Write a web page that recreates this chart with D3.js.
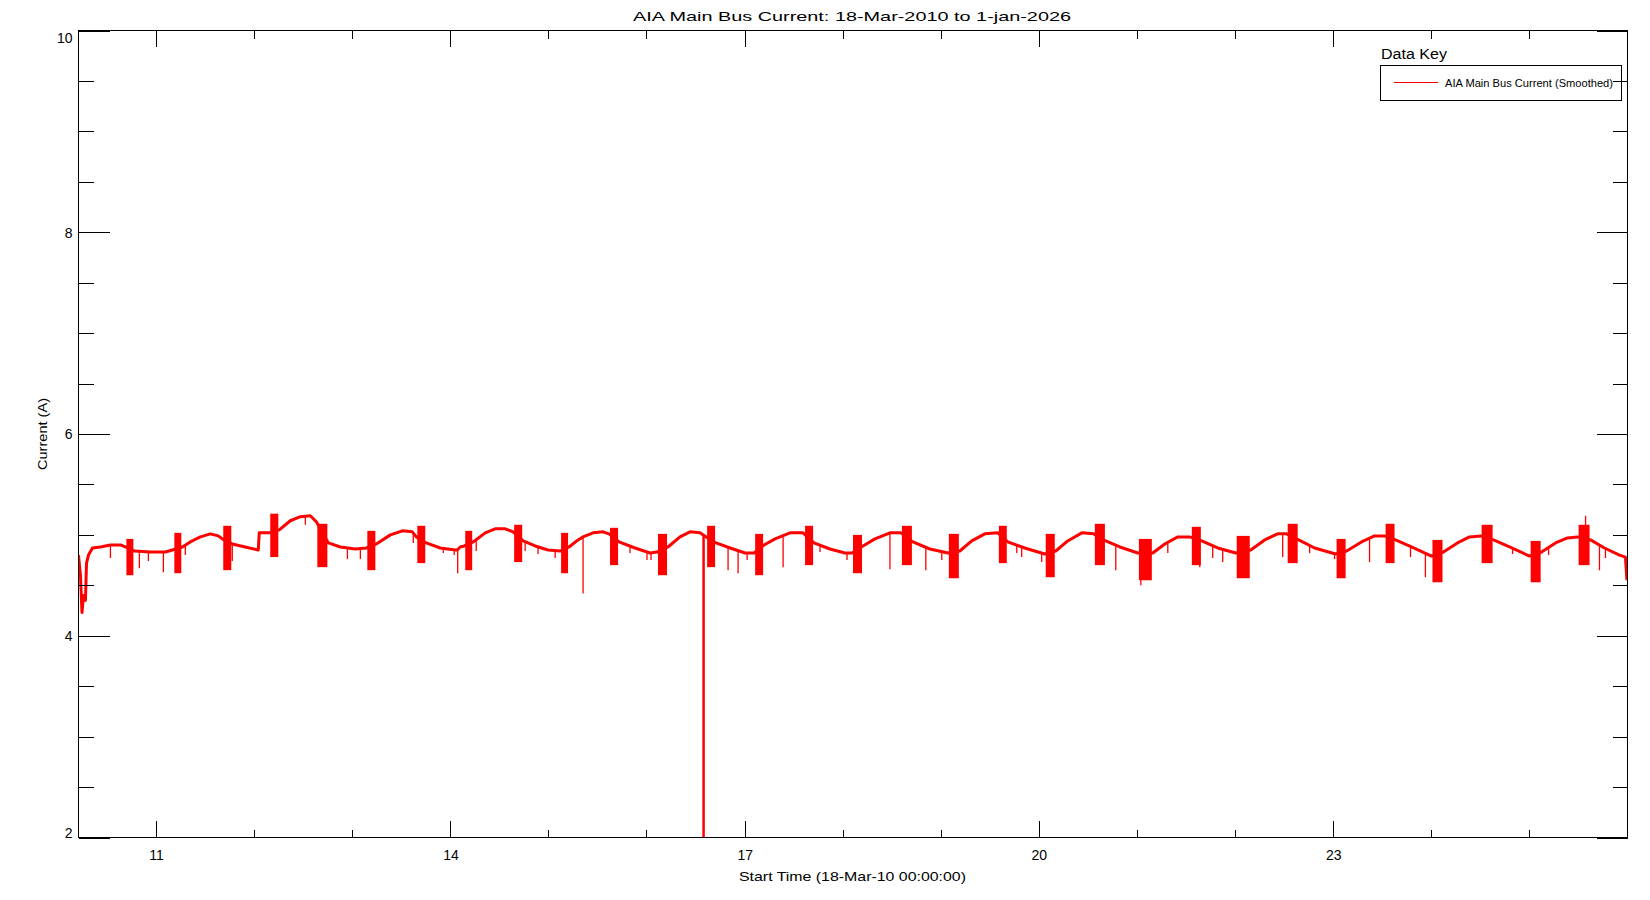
<!DOCTYPE html>
<html>
<head>
<meta charset="utf-8">
<title>AIA Main Bus Current</title>
<script src="https://cdn.jsdelivr.net/npm/d3@7"></script>
<style>
  body { margin: 0; background: #fff; }
  svg { display: block; font-family: "Liberation Sans", "DejaVu Sans", sans-serif; }
  .axis .domain { display: none; }
  .axis line { stroke: #000; stroke-width: 1; shape-rendering: crispEdges; }
  .axis text { font-size: 14px; fill: #000; font-family: "Liberation Sans", sans-serif; }
</style>
</head>
<body>
<svg id="chart" width="1650" height="900"></svg>
<script>
// smoothed main bus current, [decimal year, amps]
const busCurrent = [
    [2010.208, 4.80], [2010.228, 4.60], [2010.244, 4.23], [2010.259, 4.40], [2010.279, 4.35],
    [2010.290, 4.72], [2010.310, 4.80], [2010.351, 4.87], [2010.432, 4.88], [2010.534, 4.90],
    [2010.636, 4.90], [2010.687, 4.88],
    [2010.779, 4.84], [2010.942, 4.83], [2011.094, 4.83], [2011.166, 4.85],
    [2011.268, 4.88], [2011.349, 4.93], [2011.451, 4.98], [2011.553, 5.01], [2011.634, 4.99], [2011.675, 4.96],
    [2011.777, 4.91], [2011.909, 4.88], [2012.042, 4.85], [2012.052, 5.02], [2012.154, 5.02],
    [2012.256, 5.05], [2012.368, 5.14], [2012.470, 5.18], [2012.572, 5.19], [2012.633, 5.13],
    [2012.755, 4.92], [2012.877, 4.88], [2013.030, 4.86], [2013.142, 4.87],
    [2013.244, 4.91], [2013.387, 5.00], [2013.509, 5.04], [2013.611, 5.03], [2013.652, 4.98],
    [2013.753, 4.92], [2013.896, 4.87], [2014.049, 4.85], [2014.069, 4.85], [2014.100, 4.88], [2014.141, 4.89],
    [2014.232, 4.93], [2014.355, 5.02], [2014.456, 5.06], [2014.558, 5.06], [2014.640, 5.03],
    [2014.742, 4.94], [2014.864, 4.89], [2014.996, 4.85], [2015.119, 4.84],
    [2015.210, 4.88], [2015.302, 4.95], [2015.353, 4.98], [2015.455, 5.02], [2015.557, 5.03], [2015.618, 5.01],
    [2015.720, 4.93], [2015.883, 4.87], [2016.036, 4.82], [2016.107, 4.83],
    [2016.219, 4.88], [2016.341, 4.98], [2016.443, 5.03], [2016.545, 5.02], [2016.606, 4.98],
    [2016.708, 4.92], [2016.851, 4.87], [2017.003, 4.82], [2017.095, 4.82],
    [2017.197, 4.90], [2017.309, 4.96], [2017.462, 5.02], [2017.594, 5.02],
    [2017.706, 4.92], [2017.869, 4.86], [2018.022, 4.82], [2018.094, 4.82],
    [2018.206, 4.89], [2018.328, 4.96], [2018.481, 5.02], [2018.593, 5.02],
    [2018.715, 4.93], [2018.888, 4.86], [2019.072, 4.82],
    [2019.194, 4.84], [2019.316, 4.94], [2019.449, 5.01], [2019.581, 5.02],
    [2019.683, 4.93], [2019.856, 4.87], [2020.060, 4.81],
    [2020.172, 4.84], [2020.294, 4.94], [2020.437, 5.02], [2020.559, 5.01],
    [2020.681, 4.94], [2020.824, 4.88], [2021.007, 4.82],
    [2021.160, 4.82], [2021.282, 4.91], [2021.415, 4.98], [2021.537, 4.98],
    [2021.659, 4.94], [2021.822, 4.87], [2022.006, 4.82],
    [2022.159, 4.85], [2022.301, 4.95], [2022.434, 5.01], [2022.525, 5.01],
    [2022.648, 4.95], [2022.811, 4.87], [2023.025, 4.81],
    [2023.137, 4.84], [2023.289, 4.93], [2023.422, 4.99], [2023.524, 4.99],
    [2023.636, 4.95], [2023.799, 4.88], [2024.003, 4.79],
    [2024.125, 4.83], [2024.267, 4.92], [2024.390, 4.98], [2024.502, 4.99],
    [2024.634, 4.95], [2024.797, 4.88], [2025.001, 4.79],
    [2025.123, 4.83], [2025.266, 4.92], [2025.388, 4.97], [2025.490, 4.98],
    [2025.623, 4.95], [2025.765, 4.87], [2025.918, 4.80], [2025.979, 4.78], [2025.994, 4.55]
];

// eclipse seasons: [start, end, low, high]
const eclipseSeasons = [
    [2010.697, 2010.768, 4.60, 4.96], [2011.186, 2011.257, 4.62, 5.02], [2011.685, 2011.767, 4.65, 5.09],
    [2012.164, 2012.246, 4.78, 5.21], [2012.643, 2012.745, 4.68, 5.11], [2013.152, 2013.234, 4.65, 5.04],
    [2013.662, 2013.743, 4.72, 5.09], [2014.151, 2014.222, 4.65, 5.04], [2014.650, 2014.732, 4.73, 5.10],
    [2015.129, 2015.200, 4.62, 5.02], [2015.628, 2015.710, 4.70, 5.07], [2016.117, 2016.209, 4.60, 5.01],
    [2016.617, 2016.698, 4.68, 5.09], [2017.106, 2017.187, 4.60, 5.01], [2017.615, 2017.697, 4.70, 5.09],
    [2018.104, 2018.196, 4.62, 5.00], [2018.603, 2018.705, 4.70, 5.09], [2019.082, 2019.184, 4.57, 5.01],
    [2019.592, 2019.673, 4.72, 5.09], [2020.070, 2020.162, 4.58, 5.01], [2020.570, 2020.672, 4.70, 5.11],
    [2021.018, 2021.150, 4.55, 4.96], [2021.558, 2021.650, 4.70, 5.08], [2022.016, 2022.149, 4.57, 4.99],
    [2022.536, 2022.638, 4.72, 5.11], [2023.035, 2023.127, 4.57, 4.96], [2023.535, 2023.626, 4.72, 5.11],
    [2024.013, 2024.115, 4.53, 4.95], [2024.513, 2024.625, 4.72, 5.10], [2025.012, 2025.114, 4.53, 4.94],
    [2025.501, 2025.613, 4.70, 5.10]
];

// single-sample dips: [time, value]
const dropouts = [
    [2010.534, 4.77], [2010.829, 4.67], [2010.921, 4.74], [2011.074, 4.63], [2011.298, 4.80], [2011.777, 4.74],
    [2012.521, 5.10], [2012.949, 4.76], [2013.081, 4.76], [2013.621, 4.92], [2013.927, 4.82], [2014.039, 4.80],
    [2014.074, 4.62], [2014.263, 4.84], [2014.762, 4.84], [2014.894, 4.81], [2015.068, 4.77], [2015.353, 4.42],
    [2015.832, 4.82], [2016.005, 4.75], [2016.046, 4.75], [2016.830, 4.65], [2016.932, 4.62], [2017.024, 4.75],
    [2017.391, 4.68], [2017.768, 4.83], [2018.043, 4.75], [2018.481, 4.66], [2018.847, 4.65], [2019.010, 4.75],
    [2019.775, 4.82], [2019.825, 4.78], [2020.029, 4.73], [2020.661, 4.73], [2020.783, 4.65], [2021.038, 4.50],
    [2021.313, 4.82], [2021.639, 4.68], [2021.771, 4.77], [2021.873, 4.73], [2022.485, 4.78], [2022.760, 4.82],
    [2023.014, 4.76], [2023.371, 4.73], [2023.789, 4.78], [2023.941, 4.58], [2024.828, 4.81], [2025.195, 4.80],
    [2025.572, 5.19], [2025.714, 4.65], [2025.775, 4.77]
];

// the one off-scale drop
const bigDrop = [2016.581, 0];

const yMajorTicks = [2, 4, 6, 8, 10];
const xMajorYears = [2011, 2014, 2017, 2020, 2023];
const xMinorYears = [2012, 2013, 2015, 2016, 2018, 2019, 2021, 2022, 2024, 2025];

const titleText = "AIA Main Bus Current: 18-Mar-2010 to 1-jan-2026";
const xTitle = "Start Time (18-Mar-10 00:00:00)";
const yTitle = "Current (A)";
const legendTitle = "Data Key";
const legendLabel = "AIA Main Bus Current (Smoothed)";

// decimal year -> Date
function toDate(yv) {
    const yr = Math.floor(yv);
    const a = Date.UTC(yr, 0, 1), b = Date.UTC(yr + 1, 0, 1);
    return new Date(a + (yv - yr) * (b - a));
}

const svg = d3.select("#chart");
const plotL = 78.5, plotR = 1627.5, plotT = 30.5, plotB = 837.5;

const x = d3.scaleUtc()
    .domain([new Date(Date.UTC(2010, 2, 18)), new Date(Date.UTC(2026, 0, 1))])
    .range([plotL, plotR]);
const y = d3.scaleLinear().domain([2, 10]).range([plotB, plotT]);

svg.append("rect").attr("width", 1650).attr("height", 900).attr("fill", "#fff");

svg.append("clipPath").attr("id", "plotclip")
    .append("rect").attr("x", plotL).attr("y", plotT)
    .attr("width", plotR - plotL).attr("height", plotB - plotT);

const plot = svg.append("g").attr("clip-path", "url(#plotclip)");

// interpolated level of the main trace, used for where a dip starts
const bisect = d3.bisector(d => d[0]).left;
function levelAt(t) {
    const i = bisect(busCurrent, t);
    if (i <= 0) return busCurrent[0][1];
    if (i >= busCurrent.length) return busCurrent[busCurrent.length - 1][1];
    const a = busCurrent[i - 1], b = busCurrent[i];
    return a[1] + (b[1] - a[1]) * (t - a[0]) / (b[0] - a[0]);
}

plot.selectAll(".season")
    .data(eclipseSeasons)
    .enter().append("rect")
    .attr("class", "season")
    .attr("x", d => x(toDate(d[0])))
    .attr("width", d => x(toDate(d[1])) - x(toDate(d[0])))
    .attr("y", d => y(d[3]))
    .attr("height", d => y(d[2]) - y(d[3]))
    .attr("fill", "#ff0000");

const line = d3.line()
    .x(d => x(toDate(d[0])))
    .y(d => y(d[1]));

plot.append("path")
    .datum(busCurrent)
    .attr("fill", "none")
    .attr("stroke", "#ff0000")
    .attr("stroke-width", 3)
    .attr("stroke-linejoin", "round")
    .attr("d", line);

plot.selectAll(".dip")
    .data(dropouts)
    .enter().append("line")
    .attr("class", "dip")
    .attr("x1", d => x(toDate(d[0])))
    .attr("x2", d => x(toDate(d[0])))
    .attr("y1", d => y(levelAt(d[0])))
    .attr("y2", d => y(d[1]))
    .attr("stroke", "#ff0000")
    .attr("stroke-width", 1.3);

plot.append("line")
    .attr("x1", x(toDate(bigDrop[0])))
    .attr("x2", x(toDate(bigDrop[0])))
    .attr("y1", y(levelAt(bigDrop[0])))
    .attr("y2", y(bigDrop[1]))
    .attr("stroke", "#ff0000")
    .attr("stroke-width", 2.5);

// axes: ticks point inward on all four sides
const majorDates = xMajorYears.map(v => new Date(Date.UTC(v, 0, 1)));
const minorDates = xMinorYears.map(v => new Date(Date.UTC(v, 0, 1)));
const yMinorTicks = d3.range(2.5, 10, 0.5).filter(v => v % 2 !== 0);

const xb = svg.append("g").attr("class", "axis").attr("transform", `translate(0,${plotB})`);
xb.call(d3.axisBottom(x).tickValues(majorDates).tickSize(-17).tickPadding(13)
    .tickFormat(d3.utcFormat("%y")));
xb.selectAll("text").attr("dy", "0.71em");
svg.append("g").attr("class", "axis").attr("transform", `translate(0,${plotB})`)
    .call(d3.axisBottom(x).tickValues(minorDates).tickSize(-8).tickFormat(""));

svg.append("g").attr("class", "axis").attr("transform", `translate(0,${plotT})`)
    .call(d3.axisTop(x).tickValues(majorDates).tickSize(-16).tickFormat(""));
svg.append("g").attr("class", "axis").attr("transform", `translate(0,${plotT})`)
    .call(d3.axisTop(x).tickValues(minorDates).tickSize(-8).tickFormat(""));

const yl = svg.append("g").attr("class", "axis").attr("transform", `translate(${plotL},0)`);
yl.call(d3.axisLeft(y).tickValues(yMajorTicks).tickSize(-31).tickPadding(6).tickFormat(d3.format("d")));
yl.selectAll(".tick text")
    .attr("dy", d => d === 10 ? "0.85em" : d === 2 ? "0em" : "0.35em");
svg.append("g").attr("class", "axis").attr("transform", `translate(${plotL},0)`)
    .call(d3.axisLeft(y).tickValues(yMinorTicks).tickSize(-15).tickFormat(""));

svg.append("g").attr("class", "axis").attr("transform", `translate(${plotR},0)`)
    .call(d3.axisRight(y).tickValues(yMajorTicks).tickSize(-31).tickFormat(""));
svg.append("g").attr("class", "axis").attr("transform", `translate(${plotR},0)`)
    .call(d3.axisRight(y).tickValues(yMinorTicks).tickSize(-15).tickFormat(""));

svg.append("rect")
    .attr("x", plotL).attr("y", plotT)
    .attr("width", plotR - plotL).attr("height", plotB - plotT)
    .attr("fill", "none").attr("stroke", "#000").attr("stroke-width", 1)
    .attr("shape-rendering", "crispEdges");

// titles
svg.append("text")
    .attr("x", 633).attr("y", 21)
    .attr("font-size", 13)
    .attr("textLength", 438).attr("lengthAdjust", "spacingAndGlyphs")
    .text(titleText);

svg.append("text")
    .attr("x", 739).attr("y", 881)
    .attr("font-size", 13)
    .attr("textLength", 227).attr("lengthAdjust", "spacingAndGlyphs")
    .text(xTitle);

svg.append("text")
    .attr("transform", `translate(47,${(plotT + plotB) / 2 + 36}) rotate(-90)`)
    .attr("font-size", 13)
    .attr("textLength", 72).attr("lengthAdjust", "spacingAndGlyphs")
    .text(yTitle);

// legend
svg.append("text")
    .attr("x", 1381).attr("y", 59)
    .attr("font-size", 14)
    .attr("textLength", 66).attr("lengthAdjust", "spacingAndGlyphs")
    .text(legendTitle);

svg.append("rect")
    .attr("x", 1380.5).attr("y", 65.5).attr("width", 241).attr("height", 35)
    .attr("fill", "none").attr("stroke", "#000").attr("stroke-width", 1)
    .attr("shape-rendering", "crispEdges");

svg.append("line")
    .attr("x1", 1394).attr("x2", 1438).attr("y1", 82.5).attr("y2", 82.5)
    .attr("stroke", "#ff0000").attr("stroke-width", 1)
    .attr("shape-rendering", "crispEdges");

svg.append("text")
    .attr("x", 1445).attr("y", 87)
    .attr("font-size", 10.5)
    .attr("textLength", 168).attr("lengthAdjust", "spacingAndGlyphs")
    .text(legendLabel);
</script>
</body>
</html>
